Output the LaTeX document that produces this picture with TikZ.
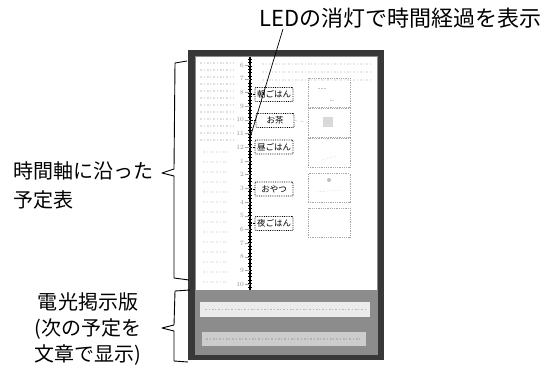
\documentclass[tikz,border=0pt]{standalone}
\usepackage{fontspec}
\newfontfamily\jpfont{Noto Sans CJK JP}
\def\outerframe{(188,50) rectangle (384,360)}
\def\innerband{(195,56) rectangle (378,355)}
\def\schedarea{(196,57) rectangle (377,290)}

\begin{document}
\begin{tikzpicture}[x=1pt,y=-1pt,
    evt/.style={draw,densely dotted,thick,rounded corners=1pt,inner sep=1pt,
      minimum width=38pt,minimum height=14pt,font=\jpfont\fontsize{8.5}{9}\selectfont},
    photo/.style={draw=gray!70,densely dotted,thick,minimum width=42pt,minimum height=29pt},
    scrib/.style={gray!25,line width=1.2pt,dash pattern=on 2pt off 1.5pt on 1pt off 2pt},
    lbl/.style={font=\jpfont\fontsize{20}{29}\selectfont,inner sep=0pt},
    brace/.style={line width=0.9pt,line join=round}]
    \useasboundingbox (0,0) rectangle (554,364);
    % board
    \fill[black!78] \outerframe;
    \fill[black!45] \innerband;
    \fill[white] \schedarea;
    % faint notes left of the time axis
    \foreach \y in {63,70,...,140}
        \draw[scrib] (200,\y) -- (234,\y);
    \foreach \y in {152,162,...,282}
        \draw[scrib,gray!15] (203,\y) -- (228,\y);
    \foreach \y in {64,72,80}
        \draw[scrib,gray!18] (262,\y) -- (372,\y);
    % time axis (LED column)
    \coordinate (axtop) at (250,57);
    \coordinate (axbot) at (250,290);
    \draw[line width=1.4pt] (axtop) -- (axbot);
    \foreach \y in {59,62.4,...,288}
        \draw[line width=0.5pt] (248,\y) -- (252,\y);
    \foreach \h [count=\i] in {6,7,8,9,10,11,12,1,2,3,4,5,6,7,8,9,10} {
        \coordinate (h\i) at (250,{51.3+13.7*\i});
        \draw[gray!70] (h\i) -- ++(-5,0)
            node[left,inner sep=1pt,text=gray!85,font=\fontsize{6.5}{7}\selectfont] {\h};
    }
    % schedule items
    \node[evt] (brkfst) at (274,94.5) {朝ごはん};
    \node[evt] (tea) at (275,120.5) {お茶};
    \node[evt] (lunch) at (274,147) {昼ごはん};
    \node[evt] (snack) at (274,189) {おやつ};
    \node[evt] (dinner) at (274,223.5) {夜ごはん};
    \foreach \e in {brkfst,tea,lunch,snack,dinner}
        \draw[densely dotted] (\e.west) -- (\e.west -| axtop);
    % picture cards
    \node[photo] (ph1) at (329,92.5) {};
    \node[photo] (ph2) at (329,122.5) {};
    \node[photo] (ph3) at (329,152.5) {};
    \node[photo] (ph4) at (329,188) {};
    \node[photo] (ph5) at (329,222.5) {};
    \draw[gray!50,dashed] (tea.east) -- (ph2.west);
    \draw[gray!45,densely dotted] (318,88) -- (326,88) (330,100) -- (334,100);
    \fill[gray!30] (323,117) rectangle (333,127);
    \draw[gray!45,densely dotted] (322,160) -- (336,156);
    \fill[gray!50] (329,180) circle (2pt);
    \draw[gray!45,densely dotted] (316,192) -- (342,190);
    % message strips
    \fill[black!8] (200,302) rectangle (370,317);
    \fill[black!20] (202,332) rectangle (366,346);
    \draw[scrib,gray!55] (205,309.5) -- (365,309.5);
    \draw[scrib,gray!60] (206,339) -- (360,339);
    % labels and braces
    \node[font=\jpfont\fontsize{22}{24}\selectfont,anchor=west,inner sep=0pt] (led) at (259,18) {LEDの消灯で時間経過を表示};
    \coordinate (ledfoot) at (283,29);
    \coordinate (ledhit) at (250,138);
    \draw[line width=0.7pt] (ledfoot) -- (ledhit);
    \node[lbl,anchor=west,align=left] (axislbl) at (13,185) {時間軸に沿った\\予定表};
    \draw[brace] (187,61) -- (175,63) -- (174,169) -- (162,173) -- (174,176) -- (174,278) -- (189,280);
    \node[lbl,align=center,font=\jpfont\fontsize{20}{26}\selectfont] (boardlbl) at (88,329) {電光掲示版\\(次の予定を\\文章で显示)};
    \draw[brace] (190,290) -- (175,291) -- (174,325) -- (162,328) -- (174,331) -- (174,361) -- (188,362);
\end{tikzpicture}
\end{document}
